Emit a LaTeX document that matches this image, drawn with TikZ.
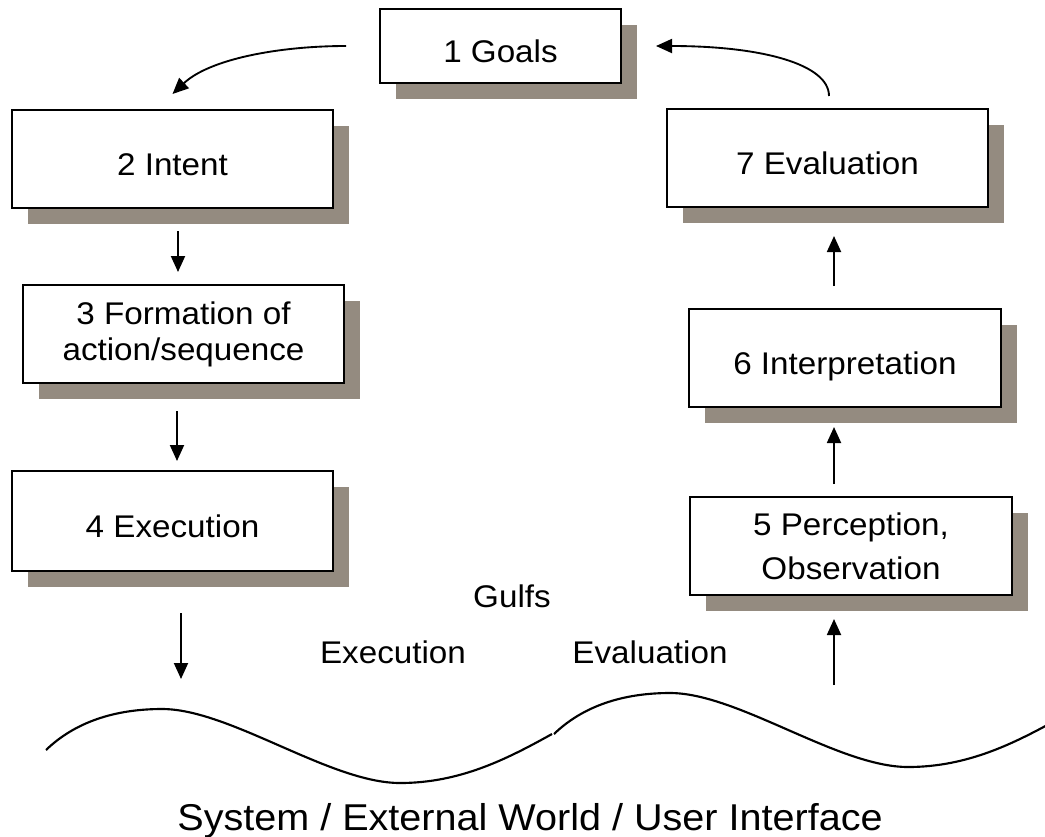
\documentclass[tikz,border=0pt]{standalone}
\usepackage{fontspec}
\setmainfont{Liberation Sans}[FakeStretch=1.06]
\usetikzlibrary{arrows.meta,shadows,calc}
\definecolor{shadowgray}{RGB}{148,139,128}
\tikzset{
  stage/.style={draw=black, line width=1.5pt, fill=white, inner sep=0pt,
    minimum width=240.75pt, minimum height=73.5pt, align=center,
    font=\fontsize{23.5}{30}\selectfont,
    general shadow={fill=shadowgray, shadow xshift=12pt, shadow yshift=-12pt}},
  oneline/.style={text height=24pt, text depth=0pt},
  flow/.style={line width=1.4pt, -{Triangle[length=12pt,width=10.5pt]}},
  wave/.style={line width=1.6pt},
  gulftext/.style={font=\fontsize{23.5}{28}\selectfont, anchor=base},
}
\begin{document}
\begin{tikzpicture}[x=0.75pt, y=-0.75pt]
\useasboundingbox (0,0) rectangle (1045,836);

% the seven stages
\node[stage, oneline, minimum width=180.75pt, minimum height=55.5pt] (goals) at (500.5,46) {1 Goals};
\node[stage, oneline] (intent) at (172.5,159) {2 Intent};
\node[stage, font=\fontsize{23.5}{27}\selectfont] (form) at (183.5,334) {3 Formation of\\action/sequence};
\node[stage, oneline, minimum height=75pt] (exec) at (172.5,521) {4 Execution};
\node[stage, oneline] (eval) at (827.5,158) {7 Evaluation};
\node[stage, oneline, minimum width=234pt] (interp) at (845,358) {6 Interpretation};
\node[stage, minimum width=241.5pt, font=\fontsize{23.5}{33}\selectfont] (perc) at (851,546) {5 Perception,\\Observation};

% columns of the straight connectors
\coordinate (xL1) at (178,0);
\coordinate (xL2) at (177,0);
\coordinate (xR) at (834,0);
\coordinate (wL) at (181,679);
\coordinate (wR) at (834,685);

% execution side
\draw[flow] ([xshift=-24.75pt]goals.west) .. controls +(-67,0) and +(37,-35) .. ([yshift=11.25pt]intent.north);
\draw[flow, shorten <=16.5pt, shorten >=9pt] (intent.south -| xL1) -- (form.north -| xL1);
\draw[flow, shorten <=20.25pt, shorten >=6.75pt] (form.south -| xL2) -- (exec.north -| xL2);
\draw[flow, shorten <=30.75pt] (exec.south -| wL) -- (wL);

% evaluation side
\draw[flow, shorten >=17.25pt] (wR) -- (perc.south -| wR);
\draw[flow, shorten <=9pt, shorten >=14.25pt] (perc.north -| xR) -- (interp.south -| xR);
\draw[flow, shorten <=16.5pt, shorten >=21pt] (interp.north -| xR) -- (eval.south -| xR);
\draw[flow] ([xshift=1.125pt,yshift=9pt]eval.north) .. controls +(0,-32) and +(105,0) .. ([xshift=25.5pt]goals.east);

% gulfs
\node[gulftext] (gulfs) at (512,607) {Gulfs};
\node[gulftext] (gexec) at (393,663) {Execution};
\node[gulftext] (geval) at (650,663) {Evaluation};

% the wavy boundary of the world
\begin{scope}
\clip (0,0) rectangle (1045,836);
\foreach \dx/\dy in {0/0, 508/-16} {
  \draw[wave, shift={(\dx,\dy)}] (46,750) .. controls (75,722) and (115,709) .. (162,709)
    .. controls (230,709) and (330,783) .. (400,783)
    .. controls (460,783) and (507,759) .. (552,734);
}
\end{scope}

\node[anchor=base, font=\fontsize{28}{34}\selectfont] (world) at (530,830) {System / External World / User Interface};
\end{tikzpicture}
\end{document}
